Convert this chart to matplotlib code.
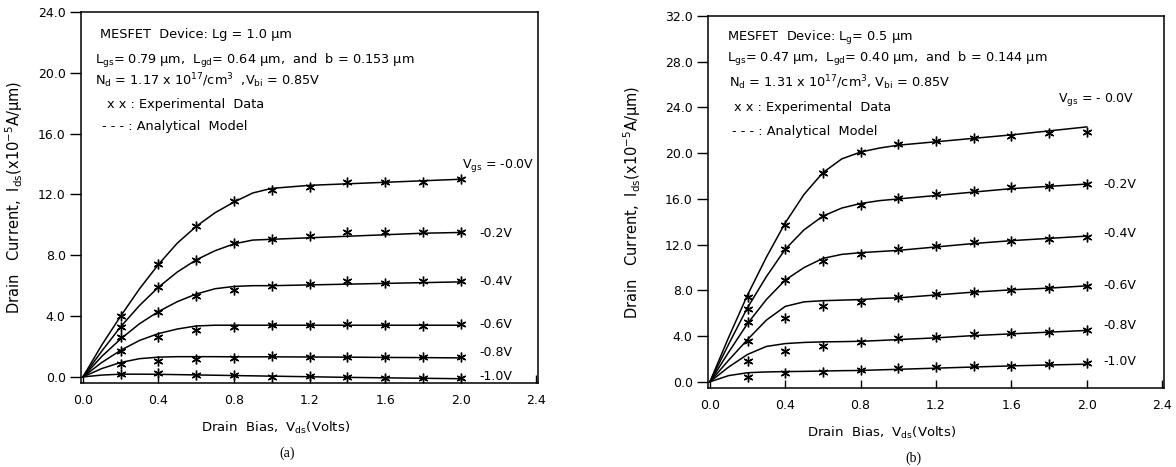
""" MESFET drain current characteristics: model curves and measured points"""

import matplotlib
matplotlib.use("Agg")
import matplotlib.pyplot as plt

plt.rcParams['font.family'] = ['DejaVu Sans']
plt.rcParams['mathtext.default'] = 'regular'

# ---- data ----
vds_exp = [0.2, 0.4, 0.6, 0.8, 1.0, 1.2, 1.4, 1.6, 1.8, 2.0]
vds_model = [0.0, 0.1, 0.2, 0.3, 0.4, 0.5, 0.6, 0.7, 0.8, 0.9, 1.0, 1.2, 1.4, 1.6, 1.8, 2.0]
vgs_labels_a = ["$V_{gs}$ = -0.0V", "-0.2V", "-0.4V", "-0.6V", "-0.8V", "-1.0V"]
vgs_labels_b = ["$V_{gs}$ = - 0.0V", "-0.2V", "-0.4V", "-0.6V", "-0.8V", "-1.0V"]

# panel (a): Lg = 1.0 um
model_a = [
    [0, 2.1, 4.0, 5.8, 7.4, 8.8, 9.9, 10.8, 11.5, 12.1, 12.4, 12.6, 12.7, 12.8, 12.9, 13.0],
    [0, 1.7, 3.3, 4.7, 5.9, 6.9, 7.7, 8.3, 8.75, 9.0, 9.05, 9.15, 9.25, 9.35, 9.45, 9.5],
    [0, 1.35, 2.5, 3.5, 4.3, 4.95, 5.45, 5.8, 5.95, 6.0, 6.0, 6.05, 6.1, 6.15, 6.2, 6.25],
    [0, 0.95, 1.75, 2.4, 2.85, 3.15, 3.35, 3.4, 3.4, 3.4, 3.4, 3.4, 3.4, 3.4, 3.4, 3.4],
    [0, 0.55, 0.95, 1.2, 1.3, 1.33, 1.33, 1.33, 1.32, 1.32, 1.32, 1.31, 1.3, 1.28, 1.27, 1.25],
    [0, 0.12, 0.18, 0.18, 0.17, 0.15, 0.13, 0.11, 0.09, 0.07, 0.05, 0.01, -0.03, -0.06, -0.09, -0.12],
]
exp_a = [
    [4.0, 7.4, 9.9, 11.6, 12.3, 12.5, 12.8, 12.8, 12.85, 13.0],
    [3.3, 5.9, 7.7, 8.8, 9.05, 9.25, 9.5, 9.5, 9.5, 9.5],
    [2.6, 4.3, 5.3, 5.7, 6.0, 6.1, 6.3, 6.2, 6.3, 6.3],
    [1.7, 2.6, 3.1, 3.3, 3.4, 3.4, 3.5, 3.4, 3.35, 3.5],
    [0.85, 1.05, 1.2, 1.25, 1.4, 1.3, 1.3, 1.3, 1.3, 1.3],
    [0.2, 0.25, 0.1, 0.15, 0.0, 0.05, 0.0, -0.05, -0.1, -0.1],
]
label_y_a = [13.9, 9.4, 6.3, 3.45, 1.6, 0.05]

# panel (b): Lg = 0.5 um
model_b = [
    [0, 3.9, 7.6, 10.9, 13.9, 16.4, 18.3, 19.5, 20.1, 20.45, 20.7, 21.0, 21.3, 21.6, 21.95, 22.3],
    [0, 3.3, 6.5, 9.2, 11.6, 13.3, 14.5, 15.2, 15.6, 15.85, 16.0, 16.3, 16.6, 16.9, 17.1, 17.3],
    [0, 2.6, 5.1, 7.2, 8.9, 10.0, 10.8, 11.15, 11.3, 11.4, 11.5, 11.8, 12.1, 12.35, 12.55, 12.75],
    [0, 1.9, 3.7, 5.4, 6.6, 7.0, 7.1, 7.15, 7.2, 7.3, 7.35, 7.6, 7.85, 8.05, 8.2, 8.4],
    [0, 1.3, 2.4, 3.1, 3.35, 3.45, 3.5, 3.52, 3.55, 3.62, 3.7, 3.85, 4.05, 4.2, 4.35, 4.5],
    [0, 0.55, 0.8, 0.87, 0.9, 0.92, 0.95, 0.98, 1.0, 1.05, 1.1, 1.2, 1.3, 1.4, 1.48, 1.55],
]
exp_b = [
    [7.4, 13.7, 18.3, 20.1, 20.8, 21.1, 21.3, 21.5, 21.75, 21.85],
    [6.4, 11.6, 14.5, 15.5, 16.1, 16.4, 16.7, 17.0, 17.1, 17.3],
    [5.2, 8.9, 10.55, 11.2, 11.6, 11.9, 12.2, 12.35, 12.5, 12.7],
    [3.6, 5.6, 6.6, 7.0, 7.4, 7.65, 7.9, 8.0, 8.25, 8.4],
    [1.8, 2.7, 3.16, 3.5, 3.8, 3.9, 4.2, 4.25, 4.4, 4.5],
    [0.4, 0.8, 0.87, 1.0, 1.2, 1.3, 1.4, 1.4, 1.55, 1.65],
]
label_y_b = [24.7, 17.3, 13.0, 8.4, 4.9, 1.75]

text_a = [
    "MESFET  Device: Lg = 1.0 μm",
    "L$_{gs}$= 0.79 μm,  L$_{gd}$= 0.64 μm,  and  b = 0.153 μm",
    "N$_{d}$ = 1.17 x 10$^{17}$/cm$^{3}$  ,V$_{bi}$ = 0.85V",
    "x x : Experimental  Data",
    "- - - : Analytical  Model",
]
text_b = [
    "MESFET  Device: L$_{g}$= 0.5 μm",
    "L$_{gs}$= 0.47 μm,  L$_{gd}$= 0.40 μm,  and  b = 0.144 μm",
    "N$_{d}$ = 1.31 x 10$^{17}$/cm$^{3}$, V$_{bi}$ = 0.85V",
    "x x : Experimental  Data",
    "- - - : Analytical  Model",
]

fig = plt.figure(figsize=(11.76, 4.67), dpi=100)
ax_a = fig.add_axes([0.0689, 0.1799, 0.3886, 0.7944])
ax_b = fig.add_axes([0.602, 0.1692, 0.3878, 0.7966])


def draw_panel(ax, model, exp, labels, label_y, lines, text_x, text_y, label_x, ymax, ylab_x, xlab_x, caption):
    for i in range(len(model)):
        ax.plot(vds_model, model[i], color='black', lw=1.1)
        ax.plot(vds_exp, exp[i], linestyle='none', marker=(6, 2, 0), markersize=7,
                markeredgewidth=1.0, color='black')
        x_lab = label_x[0] if i == 0 else label_x[1]
        ax.text(x_lab, label_y[i], labels[i], fontsize=9, va='center', ha='left')

    for k, line in enumerate(lines):
        ax.text(text_x[k], text_y[k], line, fontsize=9.3, va='center', ha='left')

    ax.set_xlim(-0.01, 2.41)
    ax.set_ylim(-0.4 * ymax / 24.0, ymax)
    ax.set_xticks([0.0, 0.4, 0.8, 1.2, 1.6, 2.0, 2.4])
    ax.set_xticklabels([f"{v:.1f}" for v in [0.0, 0.4, 0.8, 1.2, 1.6, 2.0, 2.4]])
    yt = [ymax / 8 * k for k in range(9)] if ymax > 24 else [4.0 * k for k in range(7)]
    ax.set_yticks(yt)
    ax.set_yticklabels([f"{v:.1f}" for v in yt])
    ax.tick_params(axis='y', direction='out', length=8, width=1.0, labelsize=9, pad=3)
    ax.tick_params(axis='x', direction='in', length=6, width=1.0, labelsize=9, pad=8)
    for s in ax.spines.values():
        s.set_linewidth(1.1)

    ax.set_ylabel("Drain   Current,  I$_{ds}$(x10$^{-5}$A/μm)", fontsize=10.5)
    ax.yaxis.set_label_coords(ylab_x, 0.5)
    ax.set_xlabel("Drain  Bias,  V$_{ds}$(Volts)", fontsize=9.5)
    ax.xaxis.set_label_coords(xlab_x, -0.1)
    ax.text(0.45, -0.19, caption, transform=ax.transAxes, fontsize=10,
            family='Liberation Serif', ha='center', va='center')


draw_panel(ax_a, model_a, exp_a, vgs_labels_a, label_y_a, text_a,
           [0.09, 0.064, 0.064, 0.127, 0.1], [22.5, 20.8, 19.5, 17.9, 16.5],
           [2.01, 2.1], 24.0, -0.122, 0.425, "(a)")
draw_panel(ax_b, model_b, exp_b, vgs_labels_b, label_y_b, text_b,
           [0.09, 0.09, 0.1, 0.13, 0.12], [30.1, 28.2, 26.2, 24.0, 21.9],
           [1.85, 2.09], 32.0, -0.143, 0.38, "(b)")

fig.savefig("out.png", dpi=100)
